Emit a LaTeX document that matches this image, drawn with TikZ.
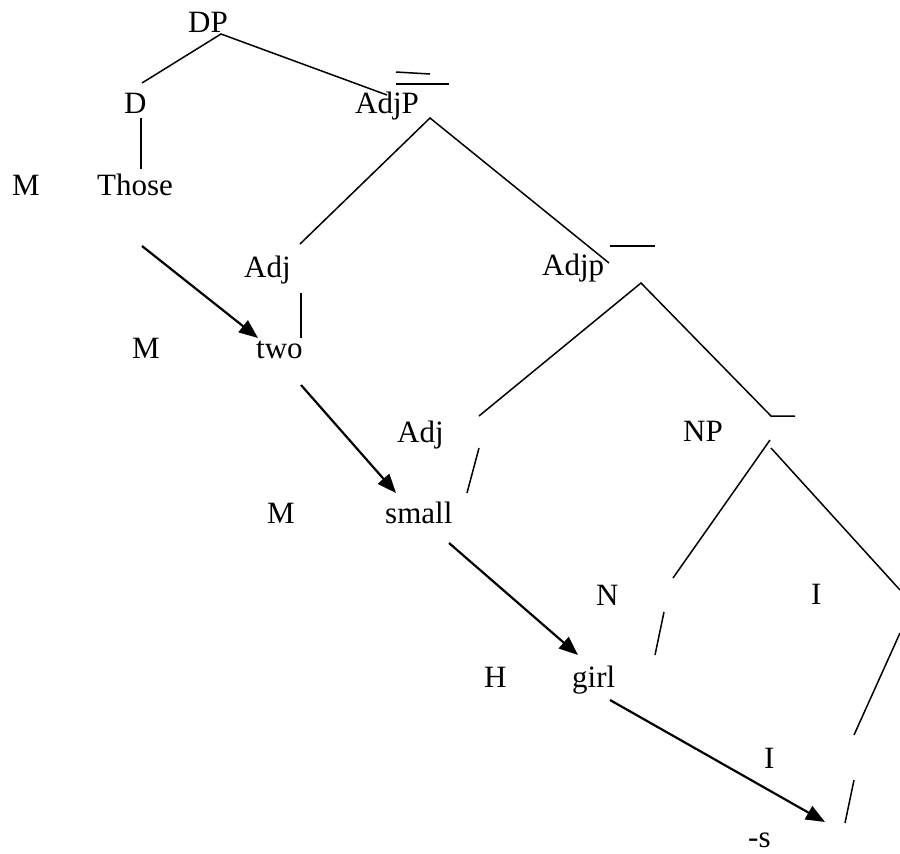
\documentclass[tikz,border=0pt]{standalone}
\usepackage{fontspec}
\setmainfont{Liberation Serif}
\usetikzlibrary{arrows.meta}
\begin{document}
\begin{tikzpicture}[x=1pt,y=-1pt,
  lbl/.style={anchor=base west,inner sep=0pt,font=\fontsize{31}{37}\selectfont},
  branch/.style={line width=1.5pt},
  move/.style={line width=2.2pt,-{Triangle[length=19pt,width=15pt]}}]
\useasboundingbox (0,0) rectangle (900,854);
% labels
\node[lbl] (dp) at (188,32) {DP};
\node[lbl] (d) at (124,113) {D};
\node[lbl] (adjP) at (355,113) {AdjP};
\node[lbl] (m1) at (12,195) {M};
\node[lbl] (those) at (97,195) {Those};
\node[lbl] (adj1) at (244,277) {Adj};
\node[lbl] (adjp) at (542,275) {Adjp};
\node[lbl] (m2) at (132,358) {M};
\node[lbl] (two) at (256,358) {two};
\node[lbl] (adj2) at (397,442) {Adj};
\node[lbl] (np) at (683,441) {NP};
\node[lbl] (m3) at (267,523) {M};
\node[lbl] (small) at (385,523) {small};
\node[lbl] (n) at (596,605) {N};
\node[lbl] (i1) at (811,604) {I};
\node[lbl] (h) at (484,687) {H};
\node[lbl] (girl) at (572,687) {girl};
\node[lbl] (i2) at (764,768) {I};
\node[lbl] (s) at (748,847) {-s};
% tree branches
\draw[branch] (142,83) -- (221,34) -- (387,95);
\draw[branch] (396,72) -- (430,74);
\draw[branch] (396,84) -- (449,84);
\draw[branch] (141,118) -- (141,169);
\draw[branch] (300,244) -- (430,118) -- (609,263);
\draw[branch] (610,246) -- (655,246);
\draw[branch] (301,293) -- (301,338);
\draw[branch] (479,416) -- (641,283) -- (771,416) -- (795,416);
\draw[branch] (479,448) -- (467,493);
\draw[branch] (673,578) -- (770,440);
\draw[branch] (771,448) -- (900,590);
\draw[branch] (900,633) -- (854,735);
\draw[branch] (854,780) -- (845,823);
\draw[branch] (664,612) -- (655,655);
% movement arrows
\coordinate (a1s) at (142,246); \coordinate (a1e) at (258,338);
\coordinate (a2s) at (301,385); \coordinate (a2e) at (396,493);
\coordinate (a3s) at (449,543); \coordinate (a3e) at (578,655);
\coordinate (a4s) at (610,700); \coordinate (a4e) at (825,822);
\draw[move] (a1s) -- (a1e);
\draw[move] (a2s) -- (a2e);
\draw[move] (a3s) -- (a3e);
\draw[move] (a4s) -- (a4e);
\end{tikzpicture}
\end{document}
